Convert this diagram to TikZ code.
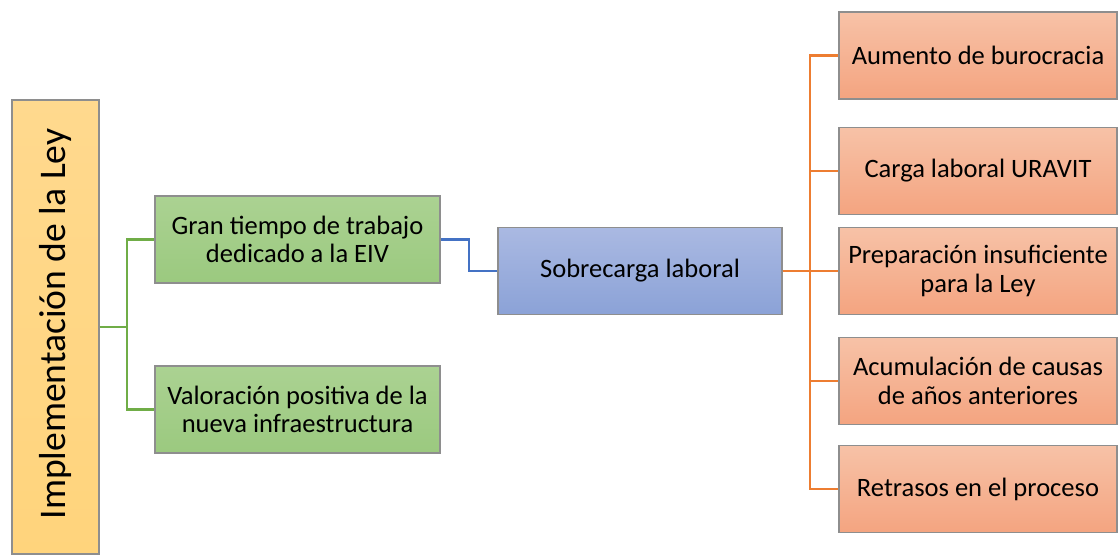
\documentclass[tikz,border=0pt]{standalone}
\usepackage{fontspec}
\setmainfont{Carlito}
\begin{document}
\begin{tikzpicture}[x=0.75pt,y=-0.75pt,
  box/.style={draw=boxgray,line width=0.8pt,inner sep=0pt,align=center,
    font=\fontsize{19.9pt}{21.4pt}\selectfont},
  yel/.style={box,top color=ylTop,bottom color=ylBot,minimum width=65.25pt,minimum height=340.5pt},
  grn/.style={box,top color=gnTop,bottom color=gnBot,minimum width=213.75pt,minimum height=65.25pt},
  blu/.style={box,top color=blTop,bottom color=blBot,minimum width=213pt,minimum height=65.25pt},
  org/.style={box,top color=orTop,bottom color=orBot,minimum width=208.5pt,minimum height=65.25pt},
  conn/.style={line width=1.8pt}
]
\definecolor{boxgray}{HTML}{8E8E8E}
\definecolor{ylTop}{HTML}{FFD98E}
\definecolor{ylBot}{HTML}{FFD47C}
\definecolor{gnTop}{HTML}{ABD292}
\definecolor{gnBot}{HTML}{9BC97F}
\definecolor{blTop}{HTML}{AAB9E2}
\definecolor{blBot}{HTML}{8BA2D7}
\definecolor{orTop}{HTML}{F7C2A7}
\definecolor{orBot}{HTML}{F4A480}
\definecolor{lnGreen}{HTML}{70AD47}
\definecolor{lnBlue}{HTML}{4472C4}
\definecolor{lnOrange}{HTML}{ED7D31}
\useasboundingbox (0,0) rectangle (1118,556);

\node[yel] (ley) at (55.5,327) {};
\node[rotate=90,font=\fontsize{28.2pt}{30pt}\selectfont] (leyt) at (55.5,324) {Implementación de la Ley};

\node[grn] (g1) at (297.5,239.5) {Gran tiempo de trabajo\\dedicado a la EIV};
\node[grn] (g2) at (297.5,409.5) {Valoración positiva de la\\nueva infraestructura};

\node[blu] (b) at (640,271) {Sobrecarga laboral};

\node[org] (o1) at (978,55.5) {Aumento de burocracia};
\node[org] (o2) at (978,171) {Carga laboral URAVIT};
\node[org] (o3) at (978,271) {Preparación insuficiente\\para la Ley};
\node[org] (o4) at (978,381) {Acumulación de causas\\de años anteriores};
\node[org] (o5) at (978,489) {Retrasos en el proceso};

\coordinate (gj) at (127,327);
\coordinate (bj) at (469,239.5);
\coordinate (oj) at (810,271);

\draw[conn,lnGreen] (ley.east) -- (gj) |- (g1.west);
\draw[conn,lnGreen] (gj) |- (g2.west);
\draw[conn,lnBlue] (g1.east) -- (bj) |- (b.west);
\foreach \o in {o1,o2,o3,o4,o5}{
  \draw[conn,lnOrange] (b.east) -- (oj) |- (\o.west);
}
\end{tikzpicture}
\end{document}
